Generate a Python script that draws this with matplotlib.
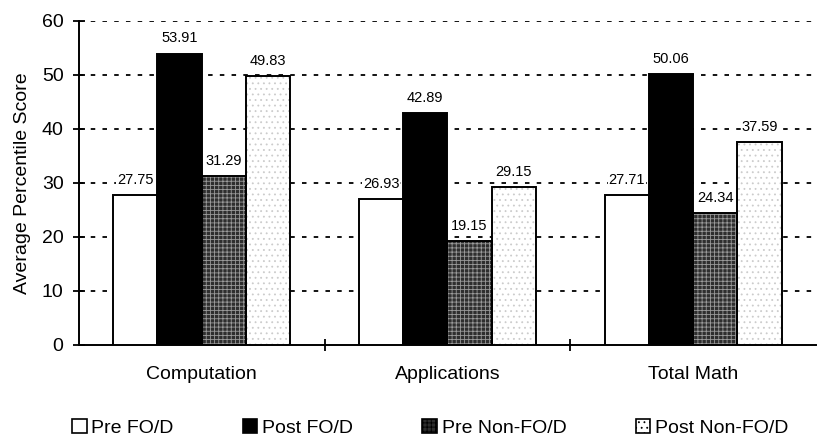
import matplotlib.pyplot as plt
import matplotlib.patches as mpatches
import numpy as np

plt.rcParams['font.family'] = ['Liberation Sans', 'DejaVu Sans']
plt.rcParams['hatch.linewidth'] = 0.6

categories = ['Computation', 'Applications', 'Total Math']
series_names = ['Pre FO/D', 'Post FO/D', 'Pre Non-FO/D', 'Post Non-FO/D']
pre_fod = [27.75, 26.93, 27.71]
post_fod = [53.91, 42.89, 50.06]
pre_non = [31.29, 19.15, 24.34]
post_non = [49.83, 29.15, 37.59]
series = [pre_fod, post_fod, pre_non, post_non]

faces = ['white', 'black', '#2e2e2e', 'white']
hatches = [None, None, '++++', '...']
hatch_cols = [None, None, '#9a9a9a', '#cccccc']

fig = plt.figure(figsize=(8.21, 4.4), dpi=100)
ax = fig.add_axes([0.096, 0.216, 0.898, 0.737])

x = np.arange(len(categories))
width = 0.18
offsets = (np.arange(4) - 1.5) * width

for i, vals in enumerate(series):
    pos = x + offsets[i]
    # fill + hatch pass, then a clean black outline on top
    ax.bar(pos, vals, width, color=faces[i], linewidth=0, zorder=3)
    if hatches[i]:
        ax.bar(pos, vals, width, color='none', edgecolor=hatch_cols[i],
               hatch=hatches[i], linewidth=0, zorder=3)
    ax.bar(pos, vals, width, color='none', edgecolor='black',
           linewidth=1.4, zorder=4)
    for px, v in zip(pos, vals):
        ax.text(px, v + 1.5, f'{v:.2f}', ha='center', va='bottom',
                fontsize=10.5, zorder=5,
                bbox=dict(facecolor='white', edgecolor='none', pad=0.5))

ax.set_ylim(0, 60)
ax.set_xlim(-0.5, 2.5)
ax.set_yticks(np.arange(0, 61, 10))
ax.tick_params(axis='y', direction='inout', length=8, width=1.3,
               labelsize=14, pad=7)
ax.set_xticks(x)
ax.set_xticklabels(categories, fontsize=14)
ax.tick_params(axis='x', which='major', length=0, pad=15)
ax.set_xticks([0.5, 1.5], minor=True)
ax.tick_params(axis='x', which='minor', direction='inout', length=9, width=1.3)

ax.set_ylabel('Average Percentile Score', fontsize=14, labelpad=8)

for sp in ['top', 'right']:
    ax.spines[sp].set_visible(False)
for sp in ['left', 'bottom']:
    ax.spines[sp].set_linewidth(1.4)

for yv in range(10, 61, 10):
    ax.axhline(yv, color='black', linewidth=1.3, linestyle=(0, (2.5, 4)),
               zorder=1)

handles = []
for i in range(4):
    handles.append(mpatches.Patch(facecolor=faces[i], edgecolor='black',
                                  hatch=hatches[i], linewidth=1.2))
leg = fig.legend(handles, series_names, loc='center',
                 bbox_to_anchor=(0.524, 0.027), ncol=4, frameon=False,
                 fontsize=14, handlelength=0.75, handleheight=0.75,
                 handletextpad=0.25, columnspacing=3.55, borderpad=0)

fig.savefig('out.png', dpi=100)
